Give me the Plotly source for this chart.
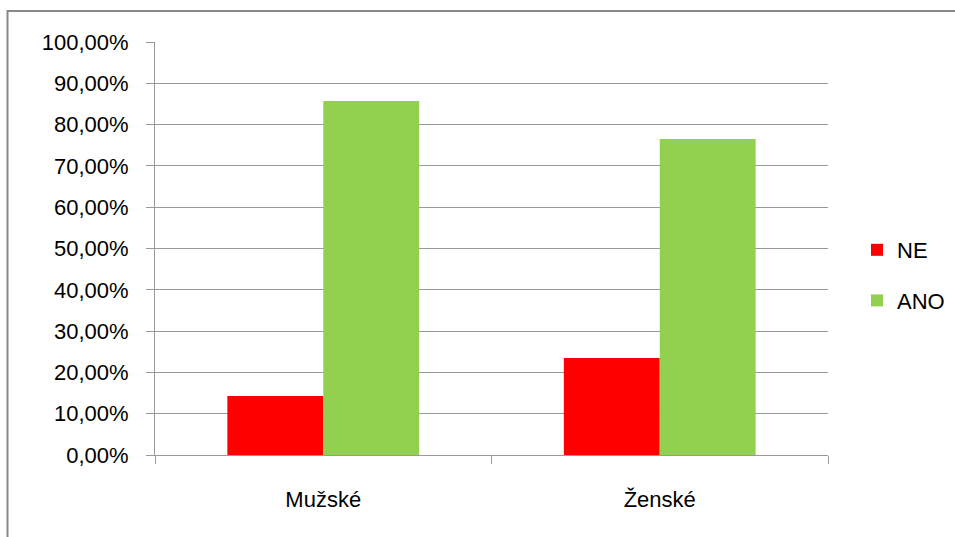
import plotly.graph_objects as go

categories = ["Mužské", "Ženské"]
ne_values = [14.29, 23.5]
ano_values = [85.71, 76.5]
series_names = ["NE", "ANO"]
y_ticks = [0, 10, 20, 30, 40, 50, 60, 70, 80, 90, 100]
y_tick_labels = ["0,00%", "10,00%", "20,00%", "30,00%", "40,00%", "50,00%",
                 "60,00%", "70,00%", "80,00%", "90,00%", "100,00%"]

FONT = "Liberation Sans"
FS = 22

fig = go.Figure()
fig.add_trace(go.Bar(x=categories, y=ne_values, name=series_names[0],
                     marker=dict(color="#FF0000", line=dict(width=0)),
                     legendgroup="a"))
fig.add_trace(go.Bar(x=categories, y=ano_values, name=series_names[1],
                     marker=dict(color="#92D050", line=dict(width=0)),
                     legendgroup="b"))

L, R, T, B = 155, 127, 42, 82
W, H = 955, 537
pw, ph = W - L - R, H - T - B

fig.update_layout(
    width=W, height=H,
    margin=dict(l=L, r=R, t=T, b=B, pad=0, autoexpand=False),
    paper_bgcolor="white", plot_bgcolor="white",
    barmode="group", bargap=0.43, bargroupgap=0,
    font=dict(family=FONT, size=FS, color="#000000"),
    showlegend=True,
    legend=dict(x=(857 - L) / pw, y=((H - B) - 275.5) / ph,
                xanchor="left", yanchor="middle",
                traceorder="grouped", tracegroupgap=19,
                font=dict(family=FONT, size=FS, color="#000000"),
                bgcolor="rgba(0,0,0,0)", itemwidth=30),
    xaxis=dict(showgrid=False, showline=True, linecolor="#999999", linewidth=1,
               ticks="outside", tickson="boundaries", ticklen=8, tickcolor="#999999",
               ticklabelstandoff=25,
               tickfont=dict(family=FONT, size=FS), fixedrange=True),
    yaxis=dict(range=[0, 100], tickvals=y_ticks, ticktext=y_tick_labels,
               showgrid=True, gridcolor="#999999", gridwidth=1,
               showline=True, linecolor="#999999", linewidth=1,
               ticks="outside", ticklen=8, tickcolor="#999999",
               ticklabelstandoff=13,
               tickfont=dict(family=FONT, size=FS), zeroline=False, fixedrange=True),
    shapes=[dict(type="rect", xref="paper", yref="paper",
                 x0=(7.5 - L) / pw, x1=(W + 20 - L) / pw,
                 y0=((H - B) - (H + 20)) / ph, y1=((H - B) - 11) / ph,
                 line=dict(color="#888888", width=2), fillcolor="rgba(0,0,0,0)",
                 layer="below")],
)

fig.write_html("out.html",
               config={"displayModeBar": False},
               post_script="document.body.style.margin='0';document.body.style.overflow='hidden';")
